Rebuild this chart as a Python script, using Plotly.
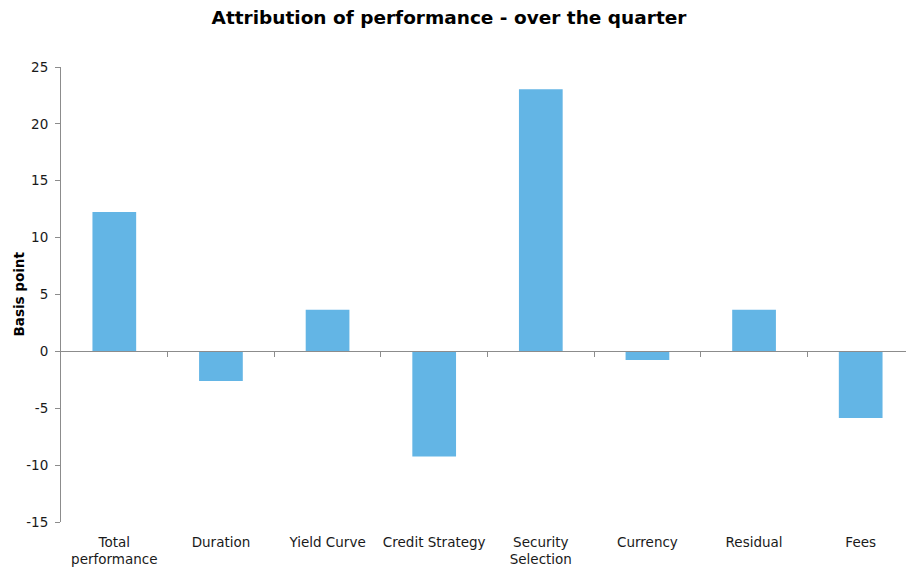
import plotly.graph_objects as go

categories = ["Total<br>performance", "Duration", "Yield Curve", "Credit Strategy",
              "Security<br>Selection", "Currency", "Residual", "Fees"]
basis_points = [12.25, -2.6, 3.65, -9.25, 23.05, -0.75, 3.65, -5.85]
y_ticks = [-15, -10, -5, 0, 5, 10, 15, 20, 25]
y_tick_text = ["-15", "-10", "-5", "0", "5", "10", "15", "20", "25"]
category_edges = [0.5, 1.5, 2.5, 3.5, 4.5, 5.5, 6.5, 7.5]

FONT = "DejaVu Sans, Verdana, sans-serif"
AXIS_GREY = "#8c8c8c"
x_range = [-0.5, 7.425]
PLOT_LEFT, PLOT_WIDTH = 61, 845

fig = go.Figure()
fig.add_trace(go.Bar(
    x=categories, y=basis_points,
    marker=dict(color="#63B5E5", line=dict(width=0)),
    width=0.41, hoverinfo="x+y",
))

fig.update_layout(
    width=906, height=568,
    margin=dict(l=PLOT_LEFT, r=0, t=67, b=46),
    paper_bgcolor="white", plot_bgcolor="white",
    showlegend=False,
    font=dict(family=FONT, size=13.5, color="#1a1a1a"),
    title=dict(
        text="<b>Attribution of performance - over the quarter</b>",
        x=449 / 906, xref="container", xanchor="center",
        y=1 - 18 / 568, yref="container", yanchor="middle",
        font=dict(family=FONT, size=18.5, color="black"),
    ),
    xaxis=dict(
        type="category", range=x_range,
        showline=False, showgrid=False, zeroline=False, ticks="",
        tickfont=dict(size=13.5, color="#1a1a1a"),
        ticklabelstandoff=10,
    ),
    # axis line drawn through zero, carrying the category divider ticks
    xaxis2=dict(
        overlaying="x", anchor="free", position=15 / 40,
        range=x_range, tickmode="array", tickvals=category_edges,
        showline=True, linecolor=AXIS_GREY, linewidth=1,
        ticks="outside", ticklen=5, tickcolor=AXIS_GREY,
        showticklabels=False, showgrid=False, zeroline=False,
    ),
    yaxis=dict(
        range=[-15, 25], tickmode="array", tickvals=y_ticks, ticktext=y_tick_text,
        showline=True, linecolor=AXIS_GREY, linewidth=1,
        ticks="outside", ticklen=5, tickcolor=AXIS_GREY,
        showgrid=False, zeroline=False,
        tickfont=dict(size=13.5, color="#1a1a1a"),
        ticklabelstandoff=4,
    ),
    annotations=[dict(
        text="<b>Basis point</b>", textangle=-90,
        x=(18 - PLOT_LEFT) / PLOT_WIDTH, xref="paper", xanchor="center",
        y=0.5, yref="paper", yanchor="middle", showarrow=False,
        font=dict(family=FONT, size=13.5, color="black"),
    )],
)

# invisible helper so the zero-line axis is rendered
fig.add_trace(go.Scatter(x=[0], y=[0], xaxis="x2", mode="markers",
                         marker=dict(opacity=0), hoverinfo="skip"))

fig.write_html("out.html")
